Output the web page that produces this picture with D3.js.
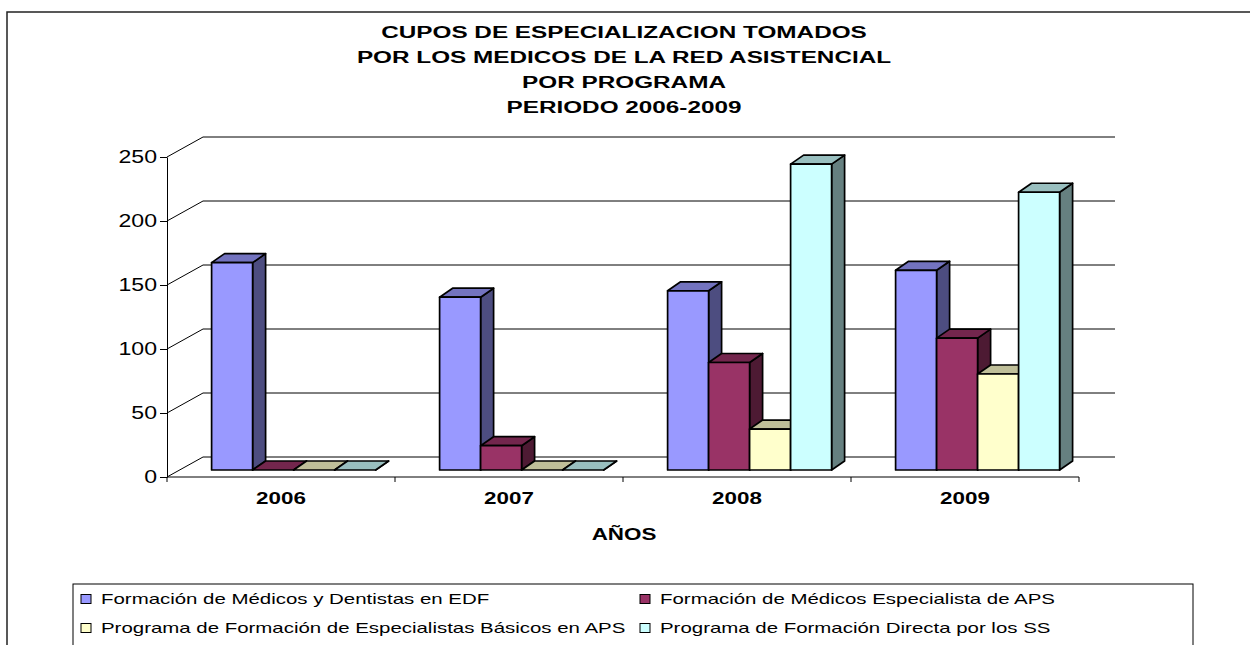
<!DOCTYPE html>
<html>
<head>
<meta charset="utf-8">
<script src="https://cdn.jsdelivr.net/npm/d3@7"></script>
<style>
  body { margin: 0; background: #fff; }
  svg { display: block; font-family: "Liberation Sans", Arial, sans-serif; }
</style>
</head>
<body>
<svg width="1250" height="645"></svg>
<script>
const years = ["2006", "2007", "2008", "2009"];
const seriesNames = [
  "Formación de Médicos y Dentistas en EDF",
  "Formación de Médicos Especialista de APS",
  "Programa de Formación de Especialistas Básicos en APS",
  "Programa de Formación Directa por los SS"
];
const edf = [162, 135, 140, 156];
const especialista = [0, 19, 84, 103];
const basicos = [0, 0, 32, 75];
const directa = [0, 0, 239, 217];
const yTicks = [0, 50, 100, 150, 200, 250];
const titleLines = [
  "CUPOS DE ESPECIALIZACION TOMADOS",
  "POR LOS MEDICOS DE LA RED ASISTENCIAL",
  "POR PROGRAMA",
  "PERIODO 2006-2009"
];

const seriesValues = [edf, especialista, basicos, directa];
// front / top / side shades, like excel 3d columns
const colors = [
  { front: "#9999ff", top: "#7373bf", side: "#4d4d80" },
  { front: "#993366", top: "#73264d", side: "#4d1a33" },
  { front: "#ffffcc", top: "#bfbf99", side: "#808066" },
  { front: "#ccffff", top: "#99bfbf", side: "#668080" }
];

const svg = d3.select("svg");
const sx = 1.4; // the picture is stretched sideways

// outer frame
svg.append("rect")
  .attr("x", 7).attr("y", 12)
  .attr("width", 1400).attr("height", 800)
  .attr("fill", "#fff").attr("stroke", "#222").attr("stroke-width", 1.5);

const xScale = d3.scaleBand().domain(years).range([167, 1079]);
const yScale = d3.scaleLinear().domain([0, 250]).range([477, 157]);
const sScale = d3.scaleBand().domain(d3.range(seriesNames.length)).range([-82, 82]);

const wall = { dx: 36, dy: -20 };
const shift = { dx: 12.6, dy: -7 };
const bar = { dx: 13, dy: -9 };

// title
svg.selectAll(".title")
  .data(titleLines)
  .enter()
  .append("text")
  .attr("class", "title")
  .attr("transform", (d, i) => "translate(" + [624, 38 + i * 25] + ") scale(1.43,1)")
  .attr("text-anchor", "middle")
  .attr("font-size", 17)
  .attr("font-weight", "bold")
  .text(d => d);

// back wall gridlines + diagonals
const grid = svg.append("g");
yTicks.forEach(t => {
  const y = yScale(t);
  grid.append("line")
    .attr("x1", 167).attr("y1", y)
    .attr("x2", 167 + wall.dx).attr("y2", y + wall.dy)
    .attr("stroke", "#000");
  grid.append("line")
    .attr("x1", 167 + wall.dx).attr("y1", y + wall.dy)
    .attr("x2", 1115).attr("y2", y + wall.dy)
    .attr("stroke", "#000");
});

// y axis
const yAxis = d3.axisLeft(yScale).tickValues(yTicks).tickSize(7).tickSizeOuter(0);
const yG = svg.append("g").attr("transform", "translate(167,0)").call(yAxis);
yG.select(".domain").attr("stroke", "#000");
yG.selectAll(".tick line").attr("stroke", "#000");
yG.selectAll(".tick text")
  .attr("font-family", "Liberation Sans, Arial, sans-serif")
  .attr("font-size", 17.5)
  .attr("fill", "#000")
  .attr("x", -10 / 1.32)
  .attr("transform", "scale(1.32,1)");

// floor front edge with category ticks
svg.append("line")
  .attr("x1", 167).attr("y1", yScale(0))
  .attr("x2", 1079).attr("y2", yScale(0))
  .attr("stroke", "#000");
const bounds = years.map(y => xScale(y)).concat([xScale.range()[1]]);
svg.selectAll(".xtick")
  .data(bounds)
  .enter()
  .append("line")
  .attr("x1", d => d).attr("x2", d => d)
  .attr("y1", yScale(0)).attr("y2", yScale(0) + 5)
  .attr("stroke", "#000");

const xAxis = d3.axisBottom(xScale).tickSize(0).tickPadding(16);
const xG = svg.append("g").attr("transform", "translate(0," + yScale(0) + ")").call(xAxis);
xG.select(".domain").remove();
xG.selectAll(".tick text")
  .attr("font-family", "Liberation Sans, Arial, sans-serif")
  .attr("font-size", 16)
  .attr("font-weight", "bold")
  .attr("fill", "#000")
  .attr("transform", "scale(" + sx + ",1)");

svg.append("text")
  .attr("transform", "translate(624,540) scale(" + sx + ",1)")
  .attr("text-anchor", "middle")
  .attr("font-size", 16)
  .attr("font-weight", "bold")
  .text("AÑOS");

// bars, drawn left to right so each front hides the previous side
const bars = [];
years.forEach((yr, i) => {
  seriesValues.forEach((vals, j) => {
    bars.push({ year: yr, s: j, value: vals[i] });
  });
});

const barG = svg.selectAll(".bar")
  .data(bars)
  .enter()
  .append("g")
  .attr("class", "bar")
  .attr("stroke", "#000")
  .attr("stroke-width", 1.7)
  .attr("stroke-linejoin", "round");

const geom = d => {
  const x0 = xScale(d.year) + xScale.bandwidth() / 2 + sScale(d.s) + shift.dx;
  const w = sScale.bandwidth();
  const yb = yScale(0) + shift.dy;
  const yt = yScale(d.value) + shift.dy;
  return { x0, w, yb, yt };
};

barG.append("polygon")
  .attr("fill", d => colors[d.s].side)
  .attr("points", d => {
    const g = geom(d);
    return [
      [g.x0 + g.w, g.yt], [g.x0 + g.w + bar.dx, g.yt + bar.dy],
      [g.x0 + g.w + bar.dx, g.yb + bar.dy], [g.x0 + g.w, g.yb]
    ].join(" ");
  });

barG.append("polygon")
  .attr("fill", d => colors[d.s].top)
  .attr("points", d => {
    const g = geom(d);
    return [
      [g.x0, g.yt], [g.x0 + bar.dx, g.yt + bar.dy],
      [g.x0 + g.w + bar.dx, g.yt + bar.dy], [g.x0 + g.w, g.yt]
    ].join(" ");
  });

barG.filter(d => d.value > 0)
  .append("rect")
  .attr("fill", d => colors[d.s].front)
  .attr("x", d => geom(d).x0)
  .attr("y", d => geom(d).yt)
  .attr("width", d => geom(d).w)
  .attr("height", d => geom(d).yb - geom(d).yt);

// legend
svg.append("rect")
  .attr("x", 73).attr("y", 584)
  .attr("width", 1120).attr("height", 200)
  .attr("fill", "#fff").attr("stroke", "#000");

const legendPos = [[81, 599], [640, 599], [81, 628], [640, 628]];
const leg = svg.selectAll(".leg")
  .data(seriesNames)
  .enter()
  .append("g")
  .attr("class", "leg")
  .attr("transform", (d, i) => "translate(" + legendPos[i] + ")");

leg.append("rect")
  .attr("x", 0).attr("y", -4.5)
  .attr("width", 10).attr("height", 9)
  .attr("fill", (d, i) => colors[i].front)
  .attr("stroke", "#000");

leg.append("text")
  .attr("transform", "translate(20,5) scale(1.46,1)")
  .attr("font-size", 14)
  .text(d => d);
</script>
</body>
</html>
